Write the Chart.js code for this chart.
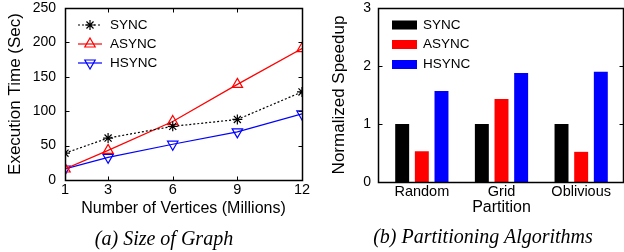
<!DOCTYPE html>
<html>
<head>
<meta charset="utf-8">
<script src="https://cdn.jsdelivr.net/npm/chart.js@4.4.1/dist/chart.umd.min.js"></script>
<style>
  body { margin: 0; background: #fff; }
  #wrap { position: relative; width: 624px; height: 252px; overflow: hidden; }
  .box { position: absolute; top: 0; width: 312px; height: 252px; }
  .cap { position: absolute; font-family: "Liberation Serif", serif; font-style: italic; font-size: 20px; white-space: nowrap; transform: translate(-50%, -50%); color: #000; }
</style>
</head>
<body>
<div id="wrap">
  <div class="box" style="left:0"><canvas id="size-chart"></canvas></div>
  <div class="box" style="left:312px"><canvas id="part-chart"></canvas></div>
  <div class="cap" style="left:164px; top:238px">(a) Size of Graph</div>
  <div class="cap" style="left:483px; top:236px">(b) Partitioning Algorithms</div>
</div>
<script>
// (a) execution time vs graph size
const vertexMillions = [1, 3, 6, 9, 12];
const syncTime = [39, 61, 78, 88, 128];
const asyncTime = [16, 43, 85, 139, 191];
const hsyncTime = [16, 33, 52, 70, 96];
const timeTicks = [0, 50, 100, 150, 200, 250];

// (b) normalized speedup per partitioning algorithm
const partitions = ['Random', 'Grid', 'Oblivious'];
const syncSpeedup = [1, 1, 1];
const asyncSpeedup = [0.53, 1.43, 0.52];
const hsyncSpeedup = [1.57, 1.88, 1.90];
const speedupTicks = [0, 1, 2, 3];

const FONT = '"Liberation Sans", Arial, sans-serif';
Chart.defaults.font.family = FONT;
Chart.defaults.color = '#000';

const crisp = v => Math.round(v) + 0.5;

// box around the plot + inward tick marks (gnuplot style)
const framePlugin = {
  id: 'frame',
  afterDraw(chart, args, opts) {
    const { ctx, chartArea: a, scales } = chart;
    const l = crisp(a.left - (opts.padLeft || 0));
    const r = crisp(a.right + (opts.padRight || 0));
    const t = crisp(a.top), b = crisp(a.bottom);
    ctx.save();
    ctx.strokeStyle = '#000';
    ctx.lineWidth = 1.5;
    ctx.strokeRect(l, t, r - l, b - t);
    ctx.lineWidth = 1;
    ctx.beginPath();
    scales.y.ticks.forEach(tk => {
      const y = crisp(scales.y.getPixelForValue(tk.value));
      ctx.moveTo(l, y); ctx.lineTo(l + 4, y);
      ctx.moveTo(r, y); ctx.lineTo(r - 4, y);
    });
    if (opts.xTicks) {
      scales.x.ticks.forEach(tk => {
        const x = crisp(scales.x.getPixelForValue(tk.value));
        ctx.moveTo(x, b); ctx.lineTo(x, b - 4);
        ctx.moveTo(x, t); ctx.lineTo(x, t + 4);
      });
    }
    ctx.stroke();
    ctx.restore();
  }
};

// legend drawn inside the plot area
const insideLegend = {
  id: 'insideLegend',
  afterDraw(chart, args, opts) {
    const { ctx, chartArea: a } = chart;
    ctx.save();
    ctx.font = '13.5px ' + FONT;
    ctx.textBaseline = 'middle';
    ctx.fillStyle = '#000';
    chart.data.datasets.forEach((ds, i) => {
      const y = a.top + opts.rows[i];
      if (opts.kind === 'line') {
        ctx.save();
        ctx.strokeStyle = ds.borderColor;
        ctx.lineWidth = ds.borderWidth;
        ctx.setLineDash(ds.borderDash || []);
        ctx.beginPath();
        ctx.moveTo(a.left + 13, y); ctx.lineTo(a.left + 37, y);
        ctx.stroke();
        ctx.setLineDash([]);
        ctx.fillStyle = 'rgba(0,0,0,0)';
        ctx.lineWidth = ds.pointBorderWidth;
        Chart.helpers.drawPoint(ctx, {
          pointStyle: ds.pointStyle, rotation: ds.pointRotation || 0,
          radius: ds.pointRadius, borderWidth: ds.pointBorderWidth
        }, a.left + 25, y);
        ctx.restore();
        ctx.fillText(ds.label, a.left + 45, y);
      } else {
        ctx.fillStyle = ds.backgroundColor;
        ctx.fillRect(a.left + 10, y - 4.5, 25, 9);
        ctx.fillStyle = '#000';
        ctx.fillText(ds.label, a.left + 41, y);
      }
    });
    ctx.restore();
  }
};

const tickFont = { size: 14, lineHeight: 1 };

// keep tick label overhang from pushing the plot area around
function fixY(width) {
  return s => { s.width = width; s.paddingTop = 0; s.paddingBottom = 0; };
}
function fixX(height) {
  return s => { s.height = height; s.paddingLeft = 0; s.paddingRight = 0; };
}

function lineSet(label, values, color, style, extra) {
  return Object.assign({
    label: label,
    data: vertexMillions.map((x, i) => ({ x: x, y: values[i] })),
    borderColor: color,
    borderWidth: 1.2,
    pointStyle: style,
    pointRadius: 6,
    pointBorderColor: color,
    pointBorderWidth: 1.2,
    pointBackgroundColor: 'rgba(0,0,0,0)',
    tension: 0
  }, extra || {});
}

new Chart(document.getElementById('size-chart'), {
  type: 'line',
  data: {
    datasets: [
      lineSet('SYNC', syncTime, '#000', 'star', { borderDash: [2, 2], pointRadius: 5 }),
      lineSet('ASYNC', asyncTime, '#ff0000', 'triangle'),
      lineSet('HSYNC', hsyncTime, '#0000ff', 'triangle', { pointRotation: 180 })
    ]
  },
  options: {
    responsive: true,
    maintainAspectRatio: false,
    animation: false,
    layout: { padding: { top: 8, right: 10, left: 0, bottom: 0 } },
    plugins: {
      legend: { display: false },
      tooltip: { enabled: false },
      frame: { xTicks: true },
      insideLegend: { kind: 'line', rows: [17, 36, 55] }
    },
    scales: {
      x: {
        type: 'linear', min: 1, max: 12,
        grid: { display: false, drawTicks: false },
        border: { display: false },
        afterBuildTicks: s => { s.ticks = vertexMillions.map(v => ({ value: v })); },
        afterFit: fixX(72),
        ticks: { font: { size: 14.5, lineHeight: 1 }, padding: 3, color: '#000' },
        title: { display: true, text: 'Number of Vertices (Millions)', font: { size: 16 }, color: '#000', padding: { top: 0, bottom: 34 } }
      },
      y: {
        min: 0, max: 250,
        grid: { display: false, drawTicks: false },
        border: { display: false },
        afterBuildTicks: s => { s.ticks = timeTicks.map(v => ({ value: v })); },
        afterFit: fixY(65),
        ticks: { font: tickFont, padding: 9, color: '#000' },
        title: { display: true, text: 'Execution Time (Sec)', font: { size: 17 }, color: '#000', padding: { top: 5, bottom: 0 } }
      }
    }
  },
  plugins: [framePlugin, insideLegend]
});

new Chart(document.getElementById('part-chart'), {
  type: 'bar',
  data: {
    labels: partitions,
    datasets: [
      { label: 'SYNC', data: syncSpeedup, backgroundColor: '#000000' },
      { label: 'ASYNC', data: asyncSpeedup, backgroundColor: '#ff0000' },
      { label: 'HSYNC', data: hsyncSpeedup, backgroundColor: '#0000ff' }
    ]
  },
  options: {
    responsive: true,
    maintainAspectRatio: false,
    animation: false,
    layout: { padding: { top: 8, right: 3, left: 0, bottom: 0 } },
    datasets: { bar: { categoryPercentage: 0.74, barPercentage: 0.71, borderWidth: 0 } },
    plugins: {
      legend: { display: false },
      tooltip: { enabled: false },
      frame: { padLeft: 4, padRight: 2 },
      insideLegend: { kind: 'box', rows: [17, 36.5, 56.5] }
    },
    scales: {
      x: {
        grid: { display: false, drawTicks: false },
        border: { display: false },
        afterFit: fixX(70),
        ticks: { font: { size: 14.5, lineHeight: 1 }, padding: 3, color: '#000' },
        title: { display: true, text: 'Partition', font: { size: 16 }, color: '#000', padding: { top: 0, bottom: 35 } }
      },
      y: {
        min: 0, max: 3,
        grid: { display: false, drawTicks: false },
        border: { display: false },
        afterBuildTicks: s => { s.ticks = speedupTicks.map(v => ({ value: v })); },
        afterFit: fixY(70),
        ticks: { font: tickFont, padding: 11, color: '#000' },
        title: { display: true, text: 'Normalized Speedup', font: { size: 17 }, color: '#000', padding: { top: 17, bottom: 0 } }
      }
    }
  },
  plugins: [framePlugin, insideLegend]
});
</script>
</body>
</html>
